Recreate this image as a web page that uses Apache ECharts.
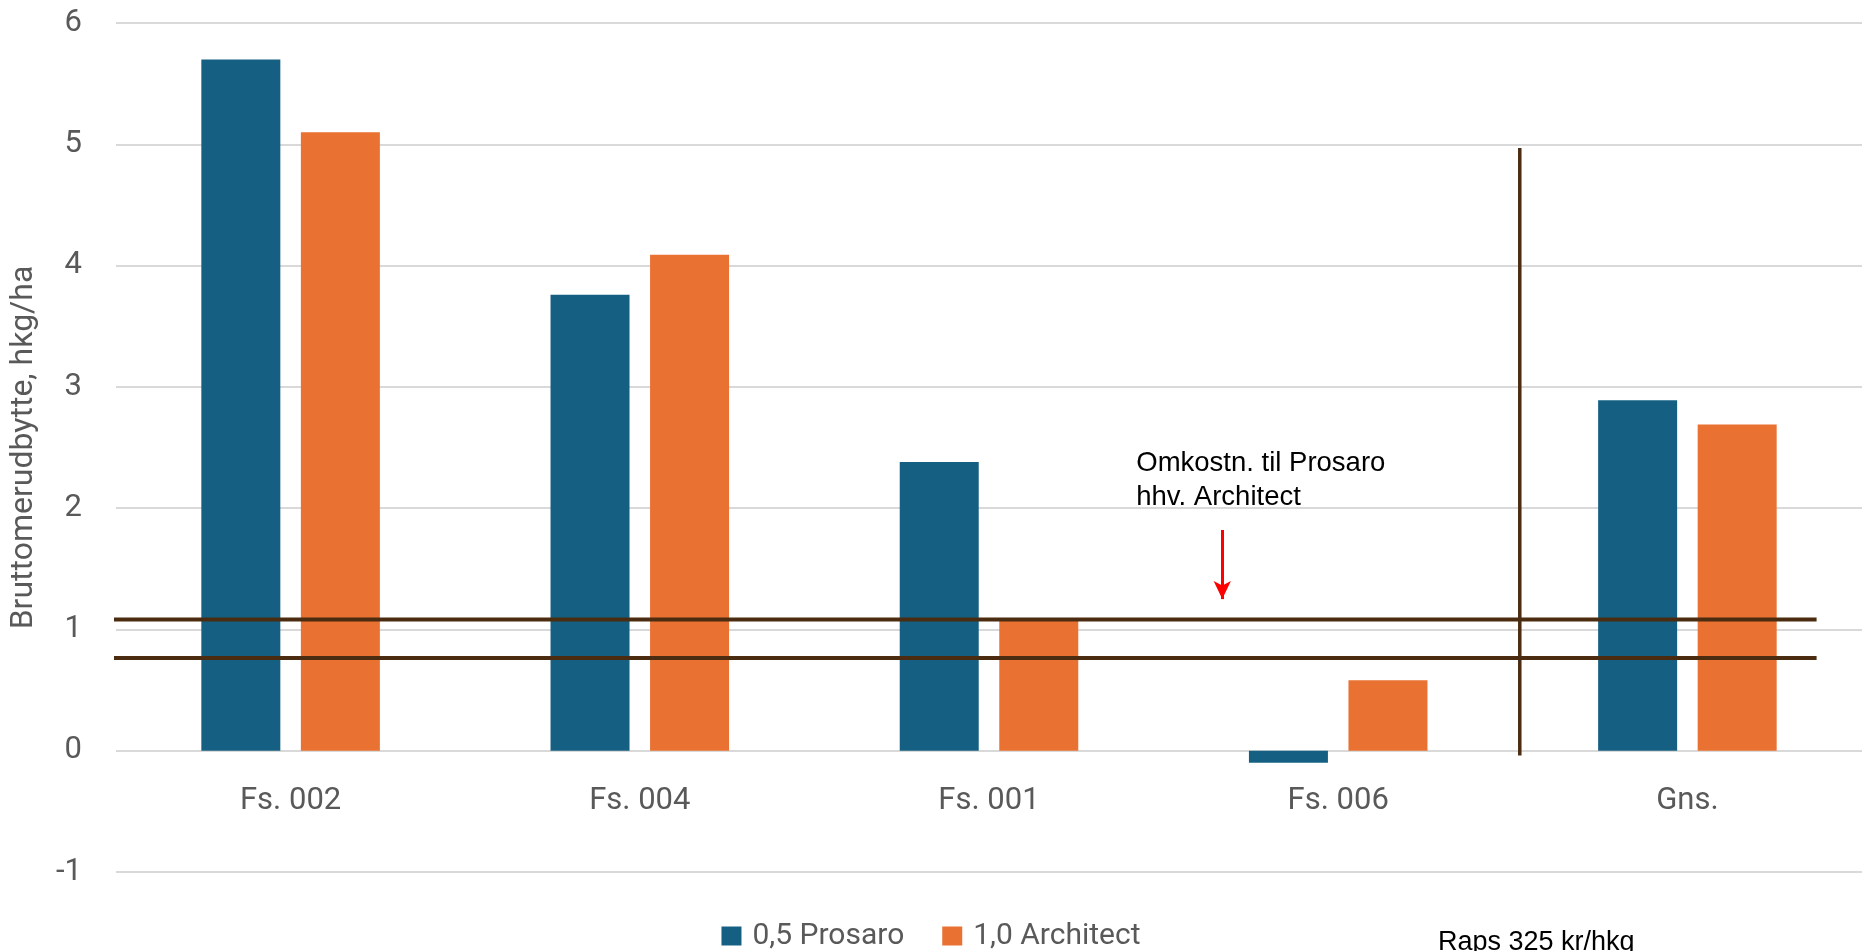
<!DOCTYPE html>
<html><head><meta charset="utf-8">
<script src="https://cdn.jsdelivr.net/npm/echarts@6/dist/echarts.min.js"></script>
<style>html,body{margin:0;padding:0;background:#fff}#c{width:1862px;height:951px}</style>
</head><body><div id="c"></div>
<script>
// ---- data ----
const categories = ['Fs. 002', 'Fs. 004', 'Fs. 001', 'Fs. 006', 'Gns.'];
const seriesNames = ['0,5 Prosaro', '1,0 Architect'];
const prosaro = [5.70, 3.76, 2.38, -0.10, 2.89];
const architect = [5.10, 4.09, 1.08, 0.58, 2.69];
const yMin = -1, yMax = 6, yInterval = 1;
const costLines = [1.082, 0.765];          // omkostning Prosaro / Architect, hkg/ha
const costLineSpan = [-0.052, 4.87];      // x extent in category units
const dividerX = 4.02;                     // divider before "Gns."
const dividerSpan = [-0.04, 4.97];
const arrowX = 3.168;
const arrowSpan = [1.82, 1.25];
const annotationLines = ['Omkostn. til Prosaro', 'hhv. Architect'];
const footnote = 'Raps 325 kr/hkg';
const yAxisTitle = 'Bruttomerudbytte, hkg/ha';

const BLUE = '#156082', ORANGE = '#E97132', BROWN = '#4b2c10', GREY = '#595959';
const GRID_TOP = 23, GRID_H = 849;
// move category axis (labels) up to the zero line
const zeroOffset = -GRID_H * (0 - yMin) / (yMax - yMin);

const chart = echarts.init(document.getElementById('c'));
const lineSeries = costLines.map(v => ({
  type: 'line', xAxisIndex: 1, yAxisIndex: 0, symbol: 'none', clip: false, silent: true, z: 5,
  lineStyle: { color: BROWN, width: 4 },
  data: [[costLineSpan[0], v], [costLineSpan[1], v]]
}));

chart.setOption({
  animation: false,
  grid: { left: 116, width: 1749, top: GRID_TOP, height: GRID_H, containLabel: false },
  legend: {
    data: seriesNames, top: 916, left: 'center',
    icon: 'rect', itemWidth: 20, itemHeight: 19, itemGap: 38,
    textStyle: { color: GREY, fontFamily: 'Roboto', fontSize: 30, padding: [0, 0, 0, 6] }
  },
  xAxis: [{
    type: 'category', data: categories, position: 'bottom', offset: zeroOffset,
    axisLine: { show: false, onZero: false },
    axisTick: { show: false },
    axisLabel: { color: GREY, fontFamily: 'Roboto', fontSize: 31, margin: 35 }
  }, {
    type: 'value', min: 0, max: 5, show: false,
    axisLine: { show: false, onZero: false }
  }],
  yAxis: {
    type: 'value', min: yMin, max: yMax, interval: yInterval,
    axisLine: { show: false, onZero: false }, axisTick: { show: false },
    axisLabel: { color: GREY, fontFamily: 'Roboto', fontSize: 31, margin: 34 },
    splitLine: { lineStyle: { color: '#d9d9d9', width: 2 } },
    name: yAxisTitle, nameLocation: 'middle', nameRotate: 90, nameGap: 76,
    nameTextStyle: { color: GREY, fontFamily: 'Roboto', fontSize: 32 }
  },
  series: [
    { name: seriesNames[0], type: 'bar', data: prosaro, barWidth: 79, barGap: '26%',
      itemStyle: { color: BLUE } },
    { name: seriesNames[1], type: 'bar', data: architect, barWidth: 79, barGap: '26%',
      itemStyle: { color: ORANGE } },
    ...lineSeries,
    { type: 'line', xAxisIndex: 1, yAxisIndex: 0, symbol: 'none', clip: false, silent: true, z: 6,
      lineStyle: { color: BROWN, width: 3.5 },
      data: [[dividerX, dividerSpan[0]], [dividerX, dividerSpan[1]]],
      markLine: {
        silent: true, symbol: ['none', 'arrow'], symbolSize: [13, 18], label: { show: false },
        lineStyle: { color: '#ff0000', width: 3, type: 'solid' },
        data: [[{ coord: [arrowX, arrowSpan[0]] }, { coord: [arrowX, arrowSpan[1]] }]]
      }
    }
  ]
});

const anchor = chart.convertToPixel({ xAxisIndex: 1, yAxisIndex: 0 }, [arrowX, arrowSpan[0]]);
chart.setOption({
  graphic: [
    { type: 'text', left: anchor[0] - 86, top: anchor[1] - 84,
      style: { text: annotationLines.join('\n'), font: '27.5px "Liberation Sans"', fill: '#000', lineHeight: 34 } },
    { type: 'text', left: 1438, top: 926,
      style: { text: footnote, font: '27px "Liberation Sans"', fill: '#000', lineHeight: 34 } }
  ]
});
</script></body></html>
